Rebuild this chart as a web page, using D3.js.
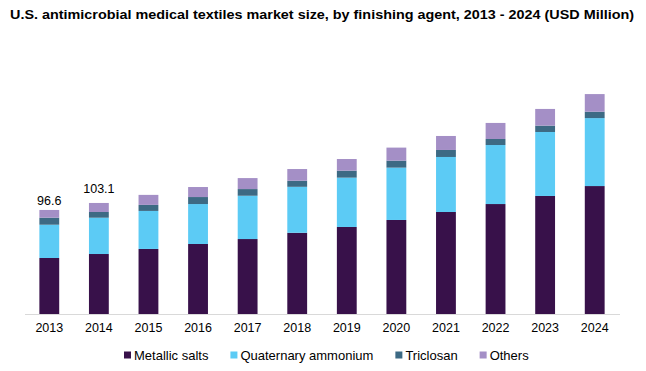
<!DOCTYPE html>
<html>
<head>
<meta charset="utf-8">
<script src="https://cdn.jsdelivr.net/npm/d3@7"></script>
<style>
  html, body { margin: 0; padding: 0; background: #ffffff; }
  svg { display: block; font-family: "Liberation Sans", Arial, sans-serif; }
</style>
</head>
<body>
<svg id="chart" width="646" height="371"></svg>
<script>
const years = ["2013","2014","2015","2016","2017","2018","2019","2020","2021","2022","2023","2024"];
const seriesNames = ["Metallic salts","Quaternary ammonium","Triclosan","Others"];
const metallicSalts = [52.0, 55.7, 60.4, 65.0, 69.6, 75.4, 80.8, 87.3, 94.7, 102.1, 109.6, 118.8];
const quaternaryAmmonium = [30.9, 33.7, 35.3, 37.1, 40.2, 42.7, 45.8, 48.6, 51.1, 54.8, 59.4, 63.1];
const triclosan = [6.5, 5.3, 5.6, 6.5, 6.2, 5.6, 6.5, 6.5, 6.5, 5.6, 5.9, 5.9];
const others = [7.2, 8.4, 9.3, 9.3, 10.2, 10.9, 10.8, 12.1, 13.0, 14.9, 15.5, 16.4];
const labelYears = ["2013","2014"];
const labelTexts = ["96.6","103.1"];
const colors = ["#38114a","#5ccbf5","#3d6a84","#a48fc6"];

const svg = d3.select("#chart");
const baseline = 314;

const rows = years.map((y, i) => ({
  year: y,
  "Metallic salts": metallicSalts[i],
  "Quaternary ammonium": quaternaryAmmonium[i],
  "Triclosan": triclosan[i],
  "Others": others[i]
}));

const x = d3.scaleBand().domain(years).range([24.5, 619.5]).paddingInner(0.6).paddingOuter(0.3);
const y = d3.scaleLinear().domain([0, 100]).range([baseline, baseline - 107.7]);

const stacked = d3.stack().keys(seriesNames)(rows);

svg.append("text")
  .attr("x", 10).attr("y", 19)
  .attr("font-size", 13.5).attr("font-weight", "bold")
  .attr("fill", "#000")
  .attr("textLength", 624).attr("lengthAdjust", "spacingAndGlyphs")
  .text("U.S. antimicrobial medical textiles market size, by finishing agent, 2013 - 2024 (USD Million)");

svg.append("g").selectAll("g")
  .data(stacked)
  .join("g")
  .attr("fill", (d, i) => colors[i])
  .selectAll("rect")
  .data(d => d)
  .join("rect")
  .attr("x", d => x(d.data.year))
  .attr("width", x.bandwidth())
  .attr("y", d => y(d[1]))
  .attr("height", d => y(d[0]) - y(d[1]));

// axis
const axis = d3.axisBottom(x).tickSize(0).tickPadding(9);
const gx = svg.append("g").attr("transform", `translate(0,${baseline})`).call(axis);
gx.select(".domain").attr("stroke", "#d9d9d9").attr("stroke-width", 1.2);
gx.selectAll("text").attr("font-size", 12.5).attr("fill", "#000")
  .attr("font-family", "'Liberation Sans', Arial, sans-serif");

// labels
const totals = years.map((yr, i) => metallicSalts[i] + quaternaryAmmonium[i] + triclosan[i] + others[i]);
svg.append("g").selectAll("text")
  .data(labelYears)
  .join("text")
  .attr("x", d => x(d) + x.bandwidth() / 2)
  .attr("y", (d, i) => y(totals[years.indexOf(d)]) - (i === 0 ? 5 : 10))
  .attr("text-anchor", "middle")
  .attr("font-size", 12.5)
  .attr("fill", "#000")
  .text((d, i) => labelTexts[i]);

// legend
const legend = svg.append("g");
let lx = 124;
seriesNames.forEach((name, i) => {
  legend.append("rect").attr("x", lx).attr("y", 351.5).attr("width", 7).attr("height", 7).attr("fill", colors[i]);
  const t = legend.append("text").attr("x", lx + 10).attr("y", 359.5)
    .attr("font-size", 13).attr("fill", "#000").text(name);
  lx += 10 + t.node().getComputedTextLength() + 22;
});
</script>
</body>
</html>
